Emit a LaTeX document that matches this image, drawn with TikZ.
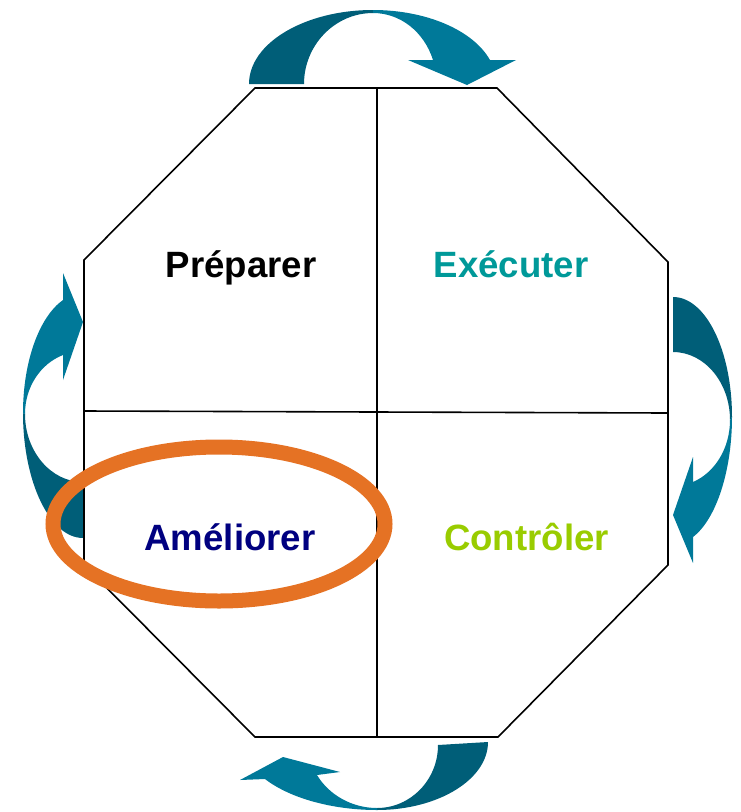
\documentclass[tikz,border=0pt]{standalone}
\usepackage{fontspec}
\setmainfont{Liberation Sans}
\definecolor{arrowdark}{RGB}{0,94,120}
\definecolor{arrowlight}{RGB}{0,121,153}
\definecolor{tealtext}{RGB}{0,153,153}
\definecolor{navytext}{RGB}{0,0,128}
\definecolor{greentext}{RGB}{153,204,0}
\definecolor{ringorange}{RGB}{229,114,36}
\tikzset{
  frame/.style={draw=black, line width=1.6pt},
  darkpart/.style={fill=arrowdark, draw=none},
  lightpart/.style={fill=arrowlight, draw=none},
  phase/.style={font=\bfseries\fontsize{36.6}{40}\selectfont, anchor=base, inner sep=0pt},
  ring/.style={draw=ringorange, line width=15pt}
}
\begin{document}
\begin{tikzpicture}[x=1pt,y=-1pt]
\useasboundingbox (0,0) rectangle (741,812);

% octagon corners
\coordinate (o1) at (255,88);
\coordinate (o2) at (497,88);
\coordinate (o3) at (668,262);
\coordinate (o4) at (668,565);
\coordinate (o5) at (498,737);
\coordinate (o6) at (255,737);
\coordinate (o7) at (84,565);
\coordinate (o8) at (84,260);
\coordinate (vt) at (377,88);
\coordinate (vb) at (377,737);
\coordinate (hl) at (84,411);
\coordinate (hr) at (668,413);

% top curved arrow (left to right)
\fill[darkpart] (249,84) .. controls (249,43) and (305,10) .. (373,10)
  -- (373,13) .. controls (335,13) and (304,45) .. (304,84) -- cycle;
\fill[lightpart] (373,10) .. controls (426,10) and (473,30) .. (490,60)
  -- (516,60) -- (467,85) -- (408,60) -- (433,60)
  .. controls (424,31.5) and (400,13) .. (373,13) -- cycle;

% right curved arrow (top to bottom)
\fill[darkpart] (673,297) .. controls (706,297) and (732,351) .. (732,417)
  -- (730,420) .. controls (730,382.5) and (704.5,352) .. (673,352) -- cycle;
\fill[lightpart] (732,417) .. controls (732,470) and (716.5,519) .. (693,537)
  -- (693,563) -- (673,515) -- (693,457) -- (693,482)
  .. controls (715.4,472.3) and (730,447.7) .. (730,420) -- cycle;

% bottom curved arrow (right to left)
\fill[darkpart] (488,742) .. controls (488,779.5) and (438,810) .. (377,810)
  -- (377,808) .. controls (410.7,808) and (438,779.8) .. (438,745) -- cycle;
\fill[lightpart] (377,810) .. controls (332,810) and (289.5,798) .. (265,779)
  -- (240,780) -- (283,757) -- (340,772) -- (317,775)
  .. controls (329,795) and (352,808) .. (377,808) -- cycle;

% left curved arrow (bottom to top)
\fill[darkpart] (83,538) .. controls (50,538) and (23,482) .. (23,413)
  -- (25,414) .. controls (25,451.5) and (51,482) .. (83,482) -- cycle;
\fill[lightpart] (23,413) .. controls (23,362) and (39,317) .. (63,300)
  -- (63,273) -- (83,322) -- (63,380) -- (63,355)
  .. controls (40,364) and (25,387.5) .. (25,414) -- cycle;

% octagon and its quarters
\draw[frame] (o1) -- (o2) -- (o3) -- (o4) -- (o5) -- (o6) -- (o7) -- (o8) -- cycle;
\draw[frame] (vt) -- (vb);
\draw[frame] (hl) -- (hr);

% phase labels
\node[phase, text=black] (prep) at (241,277) {Préparer};
\node[phase, text=tealtext] (exec) at (511,277) {Exécuter};
\node[phase, text=navytext] (amel) at (230,550) {Améliorer};
\node[phase, text=greentext] (ctrl) at (526.5,550) {Contrôler};

% highlight ring
\draw[ring] (219,524) ellipse [x radius=166pt, y radius=77pt];
\end{tikzpicture}
\end{document}
